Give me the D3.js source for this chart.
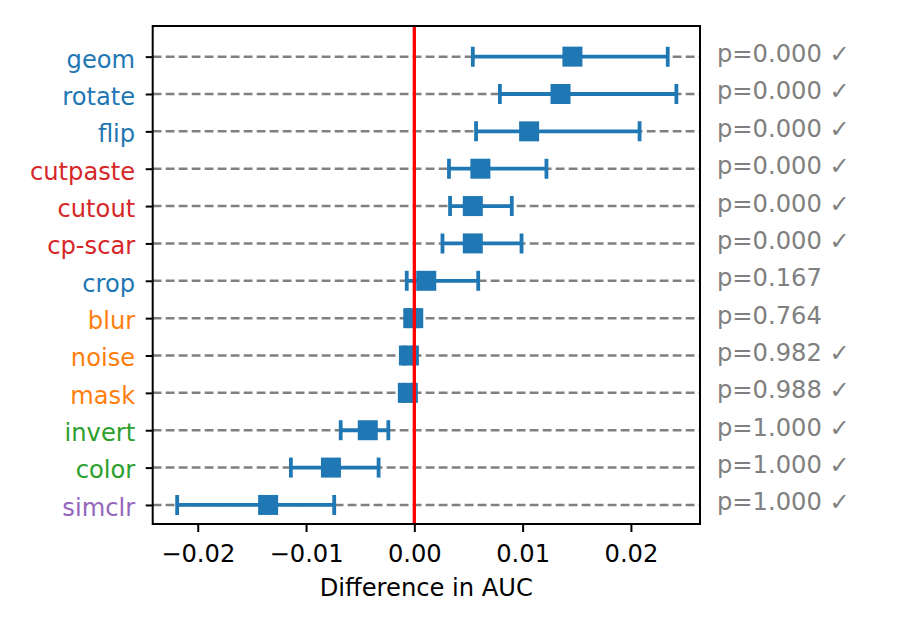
<!DOCTYPE html>
<html>
<head>
<meta charset="utf-8">
<script src="https://cdn.jsdelivr.net/npm/d3@7"></script>
<style>
  body { margin: 0; background: #fff; }
  svg { display: block; font-family: "DejaVu Sans", sans-serif; }
</style>
</head>
<body>
<svg id="chart" width="900" height="630"></svg>
<script>
// ---- data ----
const categories = ["geom","rotate","flip","cutpaste","cutout","cp-scar","crop","blur","noise","mask","invert","color","simclr"];
const labelColors = ["#1f77b4","#1f77b4","#1f77b4","#d62728","#d62728","#d62728","#1f77b4","#ff7f0e","#ff7f0e","#ff7f0e","#2ca02c","#2ca02c","#9467bd"];
const means = [0.0146, 0.0135, 0.0106, 0.0061, 0.0054, 0.0054, 0.0011, -0.0001, -0.0005, -0.0006, -0.0043, -0.0077, -0.0135];
const lowers = [0.0054, 0.0079, 0.0057, 0.0032, 0.0033, 0.0026, -0.0007, -0.0005, -0.0009, -0.0010, -0.0068, -0.0114, -0.0219];
const uppers = [0.0234, 0.0242, 0.0208, 0.0122, 0.0090, 0.0099, 0.0059, 0.0003, -0.0001, -0.0002, -0.0024, -0.0033, -0.0074];
const pValues = ["0.000","0.000","0.000","0.000","0.000","0.000","0.167","0.764","0.982","0.988","1.000","1.000","1.000"];
const significant = [true,true,true,true,true,true,false,false,true,true,true,true,true];
const xTicks = [-0.02, -0.01, 0.00, 0.01, 0.02];
const xLabel = "Difference in AUC";

// ---- layout ----
const pLeft = 152.7, pRight = 700, pTop = 26, pBottom = 524;
const fs = 24.2;
const svg = d3.select("#chart");

const x = d3.scaleLinear().domain([-0.02416, 0.02638]).range([pLeft, pRight]);
const y = d3.scaleLinear().domain([-0.82, 12.51]).range([pTop, pBottom]);
const idx = d3.range(categories.length);

// clip
svg.append("clipPath").attr("id", "clip")
  .append("rect").attr("x", pLeft).attr("y", pTop).attr("width", pRight - pLeft).attr("height", pBottom - pTop);

const plot = svg.append("g").attr("clip-path", "url(#clip)");

// dashed row lines
plot.selectAll("line.grid").data(idx).join("line")
  .attr("class", "grid")
  .attr("x1", pLeft).attr("x2", pRight)
  .attr("y1", d => y(d)).attr("y2", d => y(d))
  .attr("stroke", "#808080").attr("stroke-width", 2.5)
  .attr("stroke-dasharray", "8.8,4.2");

// error bars
const ew = 3.8;
const eb = plot.append("g");
eb.selectAll("line.err").data(idx).join("line")
  .attr("class", "err")
  .attr("x1", d => x(lowers[d])).attr("x2", d => x(uppers[d]))
  .attr("y1", d => y(d)).attr("y2", d => y(d))
  .attr("stroke", "#1f77b4").attr("stroke-width", ew);
eb.selectAll("line.capl").data(idx).join("line")
  .attr("class", "capl")
  .attr("x1", d => x(lowers[d])).attr("x2", d => x(lowers[d]))
  .attr("y1", d => y(d) - 10).attr("y2", d => y(d) + 10)
  .attr("stroke", "#1f77b4").attr("stroke-width", ew);
eb.selectAll("line.capu").data(idx).join("line")
  .attr("class", "capu")
  .attr("x1", d => x(uppers[d])).attr("x2", d => x(uppers[d]))
  .attr("y1", d => y(d) - 10).attr("y2", d => y(d) + 10)
  .attr("stroke", "#1f77b4").attr("stroke-width", ew);

// markers
const ms = 20;
plot.selectAll("rect.mk").data(idx).join("rect")
  .attr("class", "mk")
  .attr("x", d => x(means[d]) - ms / 2).attr("y", d => y(d) - ms / 2)
  .attr("width", ms).attr("height", ms)
  .attr("fill", "#1f77b4");

// zero line
plot.append("line")
  .attr("x1", x(0)).attr("x2", x(0)).attr("y1", pTop).attr("y2", pBottom)
  .attr("stroke", "#ff0000").attr("stroke-width", 3.3);

// frame
svg.append("rect").attr("x", pLeft).attr("y", pTop).attr("width", pRight - pLeft).attr("height", pBottom - pTop)
  .attr("fill", "none").attr("stroke", "#000").attr("stroke-width", 2);

// x axis
const fmt = d3.format(".2f");
const xAxis = svg.append("g").attr("transform", `translate(0,${pBottom})`)
  .call(d3.axisBottom(x).tickValues(xTicks).tickFormat(fmt).tickSize(8).tickPadding(12.5).tickSizeOuter(0));
xAxis.select(".domain").remove();
xAxis.selectAll(".tick line").attr("stroke", "#000").attr("stroke-width", 2);
xAxis.selectAll(".tick text").attr("font-size", fs).attr("fill", "#000").attr("font-family", "DejaVu Sans, sans-serif");

// y axis
const yAxis = svg.append("g").attr("transform", `translate(${pLeft},0)`)
  .call(d3.axisLeft(y).tickValues(idx).tickFormat(d => categories[d]).tickSize(7).tickPadding(10.5).tickSizeOuter(0));
yAxis.select(".domain").remove();
yAxis.selectAll(".tick line").attr("stroke", "#000").attr("stroke-width", 2);
yAxis.selectAll(".tick text").attr("font-size", fs).attr("dy", "0.43em")
  .attr("font-family", "DejaVu Sans, sans-serif")
  .attr("fill", d => labelColors[d]);

// p-value annotations
svg.selectAll("text.pval").data(idx).join("text")
  .attr("class", "pval")
  .attr("x", 717).attr("y", d => y(d) + 5.5)
  .attr("font-size", fs).attr("fill", "#808080")
  .text(d => "p=" + pValues[d] + (significant[d] ? " \u2713" : ""));

// x label
svg.append("text")
  .attr("x", (pLeft + pRight) / 2).attr("y", 596)
  .attr("text-anchor", "middle").attr("font-size", fs).attr("fill", "#000")
  .text(xLabel);
</script>
</body>
</html>
